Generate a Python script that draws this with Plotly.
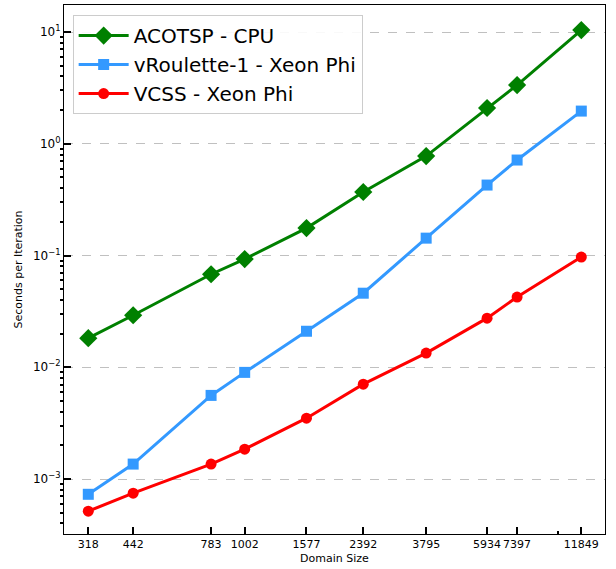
import plotly.graph_objects as go

domain_sizes = [318, 442, 783, 1002, 1577, 2392, 3795, 5934, 7397, 11849]
acotsp_cpu = [0.0182, 0.0292, 0.068, 0.093, 0.176, 0.37, 0.776, 2.09, 3.35, 10.4]
vroulette_phi = [0.00073, 0.00136, 0.0056, 0.0090, 0.021, 0.046, 0.143, 0.427, 0.715, 1.96]
vcss_phi = [0.000515, 0.000747, 0.00136, 0.00185, 0.0035, 0.00706, 0.0134, 0.0275, 0.0425, 0.0968]

y_tickvals = [1e-3, 1e-2, 1e-1, 1e0, 1e1]
y_ticktext = ["10<sup>−3</sup>", "10<sup>−2</sup>", "10<sup>−1</sup>", "10<sup>0</sup>", "10<sup>1</sup>"]

series = [
    ("ACOTSP - CPU", acotsp_cpu, "green", "diamond", 14),
    ("vRoulette-1 - Xeon Phi", vroulette_phi, "#3399ff", "square", 11),
    ("VCSS - Xeon Phi", vcss_phi, "red", "circle", 11),
]

fig = go.Figure()
for name, vals, color, sym, size in series:
    fig.add_trace(go.Scatter(
        x=domain_sizes, y=vals, name=name, mode="lines+markers",
        line=dict(color=color, width=3),
        marker=dict(symbol=sym, size=size, color=color),
    ))

fig.update_layout(
    width=616, height=569,
    margin=dict(l=64, r=11, t=5, b=35),
    paper_bgcolor="white", plot_bgcolor="white",
    font=dict(family="DejaVu Sans", size=11, color="black"),
    legend=dict(
        x=0.016, y=0.981, xanchor="left", yanchor="top",
        font=dict(size=20, family="DejaVu Sans"),
        bgcolor="rgba(255,255,255,0.9)", bordercolor="#cccccc", borderwidth=1,
        itemwidth=50, tracegroupgap=0,
    ),
    showlegend=True,
)

fig.update_xaxes(
    type="log", range=[2.4250, 4.1492], automargin=False,
    tickvals=domain_sizes, ticktext=[str(v) for v in domain_sizes],
    tickangle=0,
    ticks="inside", ticklen=7, tickwidth=2, tickcolor="black",
    showline=True, linecolor="black", linewidth=1, mirror=True,
    showgrid=False, zeroline=False,
    minor=dict(ticks="inside", ticklen=3, tickcolor="black", showgrid=False,
               tickvals=[10000]),
    title=dict(text="Domain Size", font=dict(size=11), standoff=4),
    tickfont=dict(size=11),
)
fig.update_yaxes(
    type="log", range=[-3.492, 1.2416], automargin=False,
    tickvals=y_tickvals, ticktext=y_ticktext,
    ticks="inside", ticklen=7, tickwidth=2, tickcolor="black",
    showline=True, linecolor="black", linewidth=1, mirror=True,
    showgrid=True, gridcolor="#c0c0c0", griddash="dash", gridwidth=1,
    zeroline=False,
    minor=dict(ticks="outside", ticklen=3, tickcolor="black", showgrid=False,
               tickvals=[m * 10 ** e for e in range(-4, 2) for m in range(2, 10)]),
    title=dict(text="Seconds per Iteration", font=dict(size=11), standoff=8),
    tickfont=dict(size=12),
)

fig.write_html("out.html", config={"displayModeBar": False},
               post_script="document.body.style.margin='0';")
